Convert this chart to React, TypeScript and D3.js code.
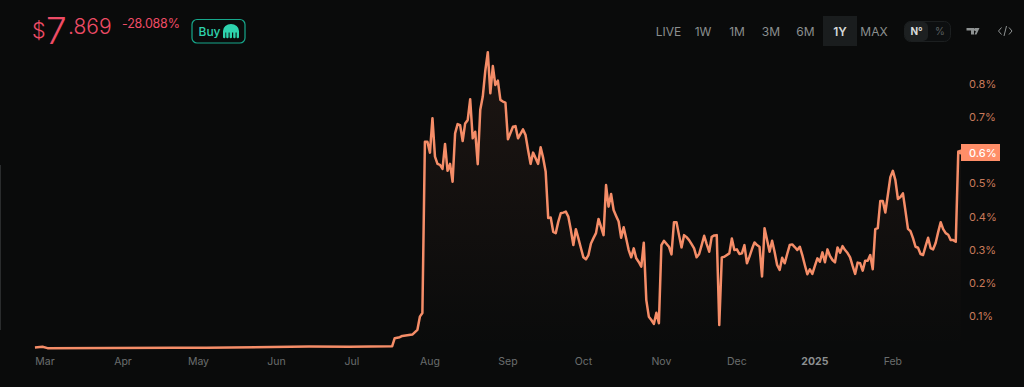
import React from "react";
import * as d3 from "d3";

const W = 1024, H = 387;
const dayNumbers = [-4,-1,1,51,64,105,121,138,139,141,142,146,148,149,150,151,152,153,154,155,156,157,158,159,160,161,162,163,164,165,166,167,168,169,170,171,172,173,174,175,176,177,178,179,180,181,182,183,184,185,186,187,188,190,191,192,193,194,196,197,198,199,200,201,202,203,204,205,206,207,208,209,210,211,212,213,214,215,216,217,218,219,220,221,222,223,224,225,226,227,228,229,230,231,232,233,234,235,236,237,238,239,240,241,242,243,244,245,246,248,249,250,251,252,253,254,255,256,257,258,259,260,261,262,263,264,265,266,267,268,269,270,272,273,274,275,276,277,278,279,280,281,282,283,284,285,286,287,288,289,290,291,292,293,294,295,296,297,298,299,300,301,302,303,304,305,306,307,308,309,310,311,312,313,314,315,316,317,318,319,320,321,322,323,324,325,326,327,328,329,330,331,332,333,334,335,336,337,338,339,340,341,342,343,344,345,346,347,348,349,350,351,352,353,354,355,356,357,358,359,360,361,362,363,364];
const percentValues = [.005,.007,.003,.004,.004,.008,.007,.009,.033,.036,.040,.044,.058,.098,.109,.626,.626,.593,.697,.581,.559,.556,.544,.619,.538,.559,.505,.651,.679,.676,.628,.681,.691,.754,.636,.656,.558,.722,.762,.84,.896,.772,.854,.797,.810,.752,.747,.744,.633,.652,.671,.673,.636,.663,.646,.601,.559,.593,.559,.609,.577,.535,.396,.397,.354,.350,.384,.410,.412,.415,.400,.360,.314,.362,.334,.305,.277,.271,.284,.319,.335,.350,.393,.369,.344,.495,.430,.468,.420,.402,.385,.336,.368,.334,.299,.277,.304,.274,.263,.249,.321,.148,.098,.088,.076,.110,.078,.314,.327,.309,.286,.383,.383,.344,.307,.344,.338,.329,.317,.304,.277,.287,.314,.342,.317,.294,.339,.343,.344,.073,.277,.279,.289,.334,.299,.301,.287,.289,.314,.259,.279,.302,.322,.314,.309,.219,.365,.329,.294,.327,.293,.254,.239,.276,.259,.287,.314,.316,.308,.299,.309,.284,.254,.226,.241,.227,.251,.274,.264,.292,.262,.301,.281,.269,.262,.307,.291,.311,.299,.290,.277,.251,.227,.261,.259,.237,.267,.267,.284,.241,.362,.365,.447,.447,.412,.465,.519,.538,.510,.453,.459,.470,.417,.363,.356,.335,.309,.306,.287,.284,.311,.336,.305,.301,.320,.353,.383,.362,.350,.345,.329,.329,.324,.596,.595];
const yTicks = [0.1,0.2,0.3,0.4,0.5,0.7,0.8];
const monthLabels = ["Mar","Apr","May","Jun","Jul","Aug","Sep","Oct","Nov","Dec","2025","Feb"];
const monthStarts = ["2024-03-01","2024-04-01","2024-05-01","2024-06-01","2024-07-01","2024-08-01","2024-09-01","2024-10-01","2024-11-01","2024-12-01","2025-01-01","2025-02-01"];
const ranges = ["LIVE","1W","1M","3M","6M","1Y","MAX"];
const rangeCentres = [668.5,703,737,771,805.5,840,874];
const lastLabel = "0.6%";

const ORANGE = "#f58d68";
const PINK = "#ee4c66";
const font = "Inter, 'Noto Sans', sans-serif";
const t0 = Date.UTC(2024, 2, 1);
const DAY = 86400000;
const x = d3.scaleUtc().domain([new Date(t0), new Date(t0 + 364 * DAY)]).range([45, 960.8]);
const y = d3.scaleLinear().domain([0.1, 0.8]).range([316, 84]);
const pts: [Date, number][] = dayNumbers.map((d, i) => [new Date(t0 + d * DAY), percentValues[i]]);
const line = d3.line<[Date, number]>().x(d => x(d[0])).y(d => y(d[1]));
const area = d3.area<[Date, number]>().x(d => x(d[0])).y0(349).y1(d => y(d[1]));
const last = pts[pts.length - 1];

export default function App() {
  return (
    <svg width={W} height={H} style={{ position: "fixed", left: 0, top: 0, background: "#0a0b0b" }} fontFamily={font}>
      <defs>
        <linearGradient id="fill" x1="0" y1="0" x2="0" y2="1">
          <stop offset="0" stopColor={ORANGE} stopOpacity={0.08} />
          <stop offset="1" stopColor={ORANGE} stopOpacity={0} />
        </linearGradient>
      </defs>
      <rect x={0} y={165} width={1} height={165} fill="#2a2c2d" />

      <text x={32} y={38} fill={PINK} fontSize={21.5} fontWeight={300}>$</text>
      <text x={46} y={44} fill={PINK} fontSize={37} fontWeight={300}>7</text>
      <text x={68} y={33.5} fill={PINK} fontSize={21} fontWeight={300}>.869</text>
      <text x={122} y={28} fill={PINK} fontSize={12.5} fontWeight={400} letterSpacing={-0.2}>-28.088%</text>
      <rect x={192} y={19.5} width={53} height={23.5} rx={5} fill="none" stroke="#17a88c" strokeWidth={1.2} />
      <text x={198.5} y={36} fill="#2ed3ae" fontSize={12} fontWeight={500}>Buy</text>
      <path d="M223 37 V31 A8 7 0 0 1 239 31 V37 A1.2 1.2 0 0 1 236.6 37 V32.5 H235.6 V37 A1.2 1.2 0 0 1 233.2 37 V32.5 H232 V37 A1.2 1.2 0 0 1 229.6 37 V32.5 H228.6 V37 A1.2 1.2 0 0 1 226.2 37 V32.5 H225.4 V37 A1.2 1.2 0 0 1 223 37 Z" fill="#2ed3ae" />

      <rect x={823} y={16} width={34} height={30} fill="#1a1d1e" />
      {ranges.map((r, i) => (
        <text key={r} x={rangeCentres[i]} y={35.5} textAnchor="middle" fontSize={12} fontWeight={r === "1Y" ? 600 : 400} fill={r === "1Y" ? "#d5d8d8" : "#8b8f8f"}>{r}</text>
      ))}
      <rect x={904.5} y={21.5} width={46} height={20} rx={6} fill="#0d0f10" stroke="#1c1f20" />
      <rect x={905} y={22} width={23} height={19} rx={5} fill="#1d2021" />
      <text x={916.5} y={35} textAnchor="middle" fontSize={10} fontWeight={700} fill="#d8dada">N°</text>
      <text x={940} y={35} textAnchor="middle" fontSize={10} fill="#5c6060">%</text>
      <path d="M966.5 28 H974 V34.5 H971 V30.5 H966.5 Z M975 28 H979.5 L976.5 34.5 H974.5 L976 31 A1.5 1.5 0 1 1 975 28 Z" fill="#8e9292" />
      <path d="M1001.5 27.5 L998.5 31 L1001.5 34.5 M1006.5 26 L1004 36 M1009 27.5 L1012 31 L1009 34.5" fill="none" stroke="#8e9292" strokeWidth={1} />

      <path d={area(pts) ?? ""} fill="url(#fill)" />
      <path d={line(pts) ?? ""} fill="none" stroke={ORANGE} strokeWidth={2.5} strokeLinejoin="round" />
      <circle cx={x(last[0])} cy={y(last[1])} r={2.5} fill={ORANGE} />

      {yTicks.map(t => (
        <text key={t} x={969} y={y(t) + 4} fontSize={11} fill="#c87a5a">{t.toFixed(1)}%</text>
      ))}
      <rect x={961} y={144} width={39} height={17} fill="#ff8e68" />
      <text x={969} y={156.5} fontSize={11} fontWeight={500} fill="#fff">{lastLabel}</text>

      {monthLabels.map((m, i) => (
        <text key={m} x={x(new Date(monthStarts[i]))} y={365} textAnchor="middle" fontSize={10.5} fontWeight={m === "2025" ? 700 : 400} fill={m === "2025" ? "#8c9090" : "#6a6e6e"}>{m}</text>
      ))}
    </svg>
  );
}
